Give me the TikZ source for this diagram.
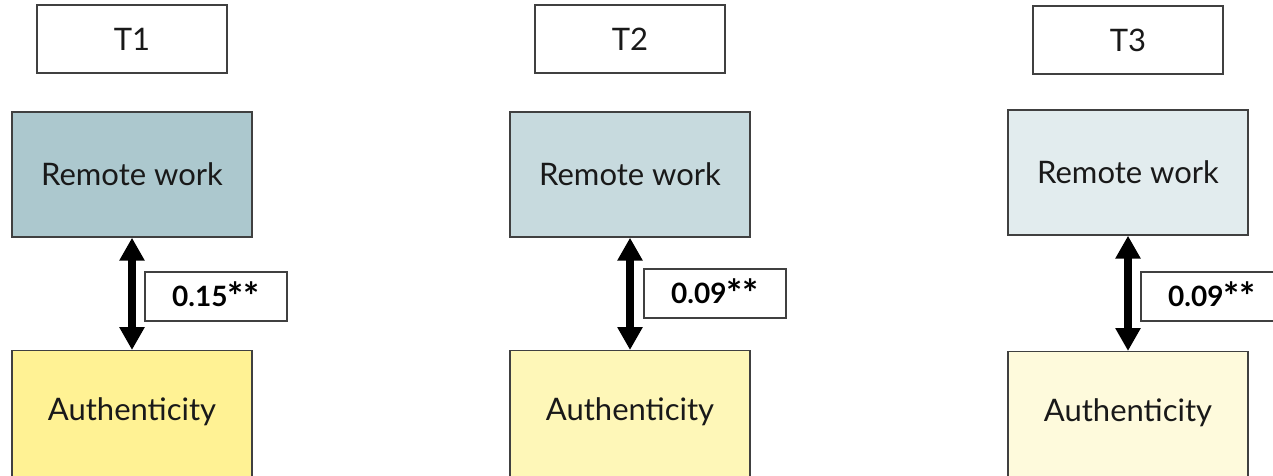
\documentclass[tikz,border=0pt]{standalone}
\usepackage{fontspec}
\setmainfont{Lato}
\usetikzlibrary{arrows.meta}
\definecolor{rwA}{HTML}{ACC8CE}
\definecolor{rwB}{HTML}{C7DADE}
\definecolor{rwC}{HTML}{E2ECEE}
\definecolor{auA}{HTML}{FFF294}
\definecolor{auB}{HTML}{FEF7B8}
\definecolor{auC}{HTML}{FEFADC}
\definecolor{edge}{HTML}{404040}
\newcommand{\stars}{{\fontsize{38}{38}\selectfont\raisebox{-4pt}{**}}}
\tikzset{
  boxbase/.style={draw=edge, line width=1.4pt, rectangle, inner sep=0pt, text=black!90},
  bigtext/.style={font=\fontsize{31}{36}\selectfont},
  timebox/.style={boxbase, bigtext, fill=white, minimum width=190pt, minimum height=68pt},
  varbox/.style={boxbase, bigtext, minimum width=240pt, minimum height=125pt},
  authbox/.style={boxbase, minimum width=240pt, minimum height=130pt},
  coefbox/.style={boxbase, fill=white, minimum width=142pt, minimum height=49pt, font=\bfseries\fontsize{28}{32}\selectfont, text=black},
  corr/.style={line width=8pt, {Triangle[width=24pt,length=23pt]}-{Triangle[width=24pt,length=23pt]}}
}
\begin{document}
\begin{tikzpicture}[x=1pt,y=-1pt]
\useasboundingbox (0,0) rectangle (1273,475);
% time points
\node[timebox] (t1) at (132,39) {T1};
\node[timebox] (t2) at (630,39) {T2};
\node[timebox] (t3) at (1128,40) {T3};
% remote work
\node[varbox, fill=rwA] (rw1) at (132,174.5) {Remote work};
\node[varbox, fill=rwB] (rw2) at (630,174.5) {Remote work};
\node[varbox, fill=rwC] (rw3) at (1128,172.5) {Remote work};
% authenticity (boxes run past the lower edge)
\node[authbox, fill=auA, anchor=north] (au1) at (132,350) {};
\node[authbox, fill=auB, anchor=north] (au2) at (630,350) {};
\node[authbox, fill=auC, anchor=north] (au3) at (1128,351) {};
\node[bigtext, text=black!90] (al1) at (132,412) {Authenticity};
\node[bigtext, text=black!90] (al2) at (630,412) {Authenticity};
\node[bigtext, text=black!90] (al3) at (1128,413) {Authenticity};
% correlations
\draw[corr] (rw1.south) -- (au1.north);
\draw[corr] (rw2.south) -- (au2.north);
\draw[corr] (rw3.south) -- (au3.north);
\node[coefbox] (c1) at (216,296.5) {0.15\stars};
\node[coefbox] (c2) at (715,293.5) {0.09\stars};
\node[coefbox] (c3) at (1212,296.5) {0.09\stars};
\end{tikzpicture}
\end{document}
